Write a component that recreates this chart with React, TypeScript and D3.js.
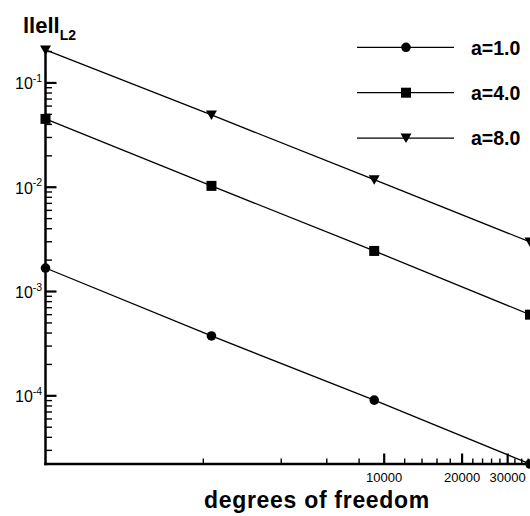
import React, { useEffect, useRef } from "react";
import * as d3 from "d3";

// degrees of freedom and L2 error for each a
const dof = [491, 2150, 9150, 36600];
const errA1 = [1.68e-3, 3.75e-4, 9.1e-5, 2.22e-5];
const errA4 = [4.52e-2, 1.03e-2, 2.45e-3, 6.0e-4];
const errA8 = [2.07e-1, 4.93e-2, 1.18e-2, 2.99e-3];
const seriesNames = ["a=1.0", "a=4.0", "a=8.0"];
const markerTypes = ["circle", "square", "triangle"];
const yMajor = [1e-4, 1e-3, 1e-2, 1e-1];
const xLabels = [10000, 20000, 30000];

const W = 530;
const H = 516;
const font = "'Liberation Sans', Arial, Helvetica, sans-serif";

function App() {
  const ref = useRef<SVGSVGElement>(null);

  useEffect(() => {
    const svg = d3.select(ref.current);
    svg.selectAll("*").remove();

    const x = d3.scaleLog().domain([491, 36600]).range([45.5, 530]);
    const y = d3.scaleLog().domain([2.22e-5, 0.221]).range([464, 47]);

    const series = [errA1, errA4, errA8];

    function drawMarker(g, type, cx, cy) {
      if (type === "circle") {
        g.append("circle").attr("cx", cx).attr("cy", cy).attr("r", 4.8).attr("fill", "black");
      } else if (type === "square") {
        g.append("rect").attr("x", cx - 5).attr("y", cy - 5).attr("width", 10).attr("height", 10).attr("fill", "black");
      } else {
        g.append("path")
          .attr("d", `M${cx - 5.5},${cy - 4.5}L${cx + 5.5},${cy - 4.5}L${cx},${cy + 5}Z`)
          .attr("fill", "black");
      }
    }

    // y ticks (inside, pointing right)
    const yTicks = [];
    for (let e = -5; e <= -1; e++) {
      for (let m = 1; m <= 9; m++) {
        const v = m * Math.pow(10, e);
        if (v >= 2.22e-5 && v <= 0.221) yTicks.push({ v, major: m === 1 });
      }
    }
    yTicks.forEach((t) => {
      svg.append("line")
        .attr("x1", 45.5).attr("x2", 45.5 + (t.major ? 11 : 6.5))
        .attr("y1", y(t.v)).attr("y2", y(t.v))
        .attr("stroke", "black").attr("stroke-width", t.major ? 2.2 : 1.4);
    });

    // x ticks (inside, pointing up)
    for (let v = 2000; v <= 36000; v += 2000) {
      const major = v % 10000 === 0;
      svg.append("line")
        .attr("x1", x(v)).attr("x2", x(v))
        .attr("y1", 464).attr("y2", 464 - (major ? 10.5 : 5.5))
        .attr("stroke", "black").attr("stroke-width", major ? 2.2 : 1.4);
    }

    // axes lines
    svg.append("line").attr("x1", 45.5).attr("x2", 45.5).attr("y1", 47).attr("y2", 465.2)
      .attr("stroke", "black").attr("stroke-width", 2.5);
    svg.append("line").attr("x1", 44.3).attr("x2", 530).attr("y1", 464).attr("y2", 464)
      .attr("stroke", "black").attr("stroke-width", 2.5);

    // y labels
    yMajor.forEach((v) => {
      const t = svg.append("text")
        .attr("x", 15).attr("y", y(v) + 6.3)
        .attr("font-family", font).attr("font-size", 16).attr("fill", "black")
        .text("10");
      t.append("tspan").attr("dy", -7.3).attr("font-size", 10.5)
        .text("-" + Math.round(-Math.log10(v)));
    });

    // x labels
    xLabels.forEach((v) => {
      svg.append("text")
        .attr("x", x(v)).attr("y", 482)
        .attr("text-anchor", "middle")
        .attr("font-family", font).attr("font-size", 13).attr("fill", "black")
        .text(v);
    });

    // series
    const line = d3.line().x((d) => d[0]).y((d) => d[1]);
    series.forEach((vals, i) => {
      const pts = dof.map((d, j) => [x(d), y(vals[j])]);
      svg.append("path").attr("d", line(pts)).attr("fill", "none")
        .attr("stroke", "black").attr("stroke-width", 1.3);
      const g = svg.append("g");
      pts.forEach((p) => drawMarker(g, markerTypes[i], p[0], p[1]));
    });

    // legend
    seriesNames.forEach((name, i) => {
      const ly = 47.3 + i * 45.4;
      svg.append("line").attr("x1", 357).attr("x2", 454).attr("y1", ly).attr("y2", ly)
        .attr("stroke", "black").attr("stroke-width", 1.3);
      drawMarker(svg, markerTypes[i], 406, ly);
      svg.append("text").attr("x", 471).attr("y", ly + 7.2)
        .attr("font-family", font).attr("font-size", 19.5).attr("font-weight", "bold")
        .text(name);
    });

    // axis titles
    const yt = svg.append("text").attr("x", 23).attr("y", 33)
      .attr("font-family", font).attr("font-size", 22).attr("font-weight", "bold")
      .text("llell");
    yt.append("tspan").attr("dy", 6.5).attr("font-size", 14).text("L2");

    svg.append("text").attr("x", 317).attr("y", 508)
      .attr("text-anchor", "middle")
      .attr("font-family", font).attr("font-size", 23).attr("font-weight", "bold")
      .attr("letter-spacing", 0.7)
      .text("degrees of freedom");
  }, []);

  return (
    <svg
      ref={ref}
      width={W}
      height={H}
      style={{ position: "absolute", left: 0, top: 0, background: "white" }}
    />
  );
}

export default App;
